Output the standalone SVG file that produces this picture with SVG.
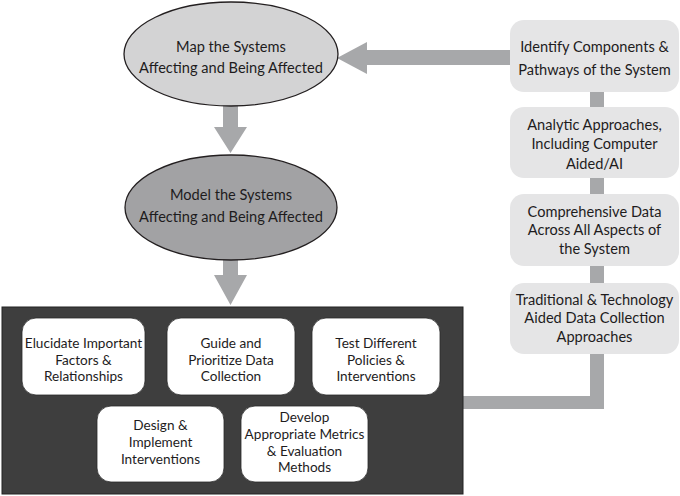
<svg xmlns="http://www.w3.org/2000/svg" width="680" height="496" viewBox="0 0 680 496">
<style>
text{font-family:Lato,"Open Sans","Liberation Sans",sans-serif;fill:#1e1c1d;text-anchor:middle}
.lg{font-size:14.6px}
.md{font-size:14.6px}
.sm{font-size:13.6px}
.arrow{fill:#a7a8aa}
.side{fill:#e5e5e6}
.inner{fill:#ffffff;stroke:#2a2a2a;stroke-width:0.8}
.ell{stroke:#231f20;stroke-width:1.3}
</style>
<rect width="680" height="496" fill="#ffffff"/>
<g id="connectors">
<polygon class="arrow" points="510,50 367,50 367,42 337,58 367,74 367,65 510,65"/>
<polygon class="arrow" points="223,104 238,104 238,127 247,127 230.5,153 214,127 223,127"/>
<polygon class="arrow" points="223,259 238,259 238,275 247,275 230.5,305 214,275 223,275"/>
<rect class="arrow" x="590" y="91" width="14" height="17"/>
<rect class="arrow" x="590" y="177" width="14" height="18"/>
<rect class="arrow" x="590" y="265" width="14" height="19"/>
<polygon class="arrow" points="590,353 604,353 604,409 463,409 463,396 590,396"/>
</g>
<g id="map">
<ellipse class="ell" cx="231" cy="54" rx="107" ry="52" fill="#d3d3d4"/>
<text class="lg" x="231" y="52">Map the Systems</text>
<text class="lg" x="231" y="73">Affecting and Being Affected</text>
</g>
<g id="model">
<ellipse class="ell" cx="231" cy="207.5" rx="106" ry="52.5" fill="#a2a2a4"/>
<text class="lg" x="231" y="200">Model the Systems</text>
<text class="lg" x="231" y="222">Affecting and Being Affected</text>
</g>
<g id="identify">
<rect class="side" x="510" y="20" width="169" height="72" rx="14"/>
<text class="md" x="594.5" y="52">Identify Components &amp;</text>
<text class="md" x="594.5" y="75">Pathways of the System</text>
</g>
<g id="analytic">
<rect class="side" x="510" y="107" width="169" height="71" rx="14"/>
<text class="md" x="594.5" y="130">Analytic Approaches,</text>
<text class="md" x="594.5" y="149">Including Computer</text>
<text class="md" x="594.5" y="169">Aided/AI</text>
</g>
<g id="comprehensive">
<rect class="side" x="510" y="194" width="169" height="72" rx="14"/>
<text class="md" x="594.5" y="217">Comprehensive Data</text>
<text class="md" x="594.5" y="235">Across All Aspects of</text>
<text class="md" x="594.5" y="254">the System</text>
</g>
<g id="traditional">
<rect class="side" x="510" y="283" width="169" height="71" rx="14"/>
<text class="md" x="594.5" y="305">Traditional &amp; Technology</text>
<text class="md" x="594.5" y="323">Aided Data Collection</text>
<text class="md" x="594.5" y="342">Approaches</text>
</g>
<g id="outcomes">
<rect x="2" y="307" width="461" height="187" fill="#3e3e3e" stroke="#222" stroke-width="1"/>
<g id="elucidate">
<rect class="inner" x="22" y="318" width="123" height="77" rx="14"/>
<text class="sm" x="83.5" y="348">Elucidate Important</text>
<text class="sm" x="83.5" y="364.5">Factors &amp;</text>
<text class="sm" x="83.5" y="381">Relationships</text>
</g>
<g id="guide">
<rect class="inner" x="167" y="318" width="128" height="77" rx="14"/>
<text class="sm" x="231" y="348">Guide and</text>
<text class="sm" x="231" y="364.5">Prioritize Data</text>
<text class="sm" x="231" y="381">Collection</text>
</g>
<g id="test">
<rect class="inner" x="312" y="318" width="128" height="77" rx="14"/>
<text class="sm" x="376" y="348">Test Different</text>
<text class="sm" x="376" y="364.5">Policies &amp;</text>
<text class="sm" x="376" y="381">Interventions</text>
</g>
<g id="design">
<rect class="inner" x="97" y="406" width="127" height="76" rx="14"/>
<text class="sm" x="160.5" y="430">Design &amp;</text>
<text class="sm" x="160.5" y="447">Implement</text>
<text class="sm" x="160.5" y="464">Interventions</text>
</g>
<g id="develop">
<rect class="inner" x="241" y="406" width="127" height="76" rx="14"/>
<text class="sm" x="304.5" y="422">Develop</text>
<text class="sm" x="304.5" y="439">Appropriate Metrics</text>
<text class="sm" x="304.5" y="455.5">&amp; Evaluation</text>
<text class="sm" x="304.5" y="472">Methods</text>
</g>
</g>
</svg>
